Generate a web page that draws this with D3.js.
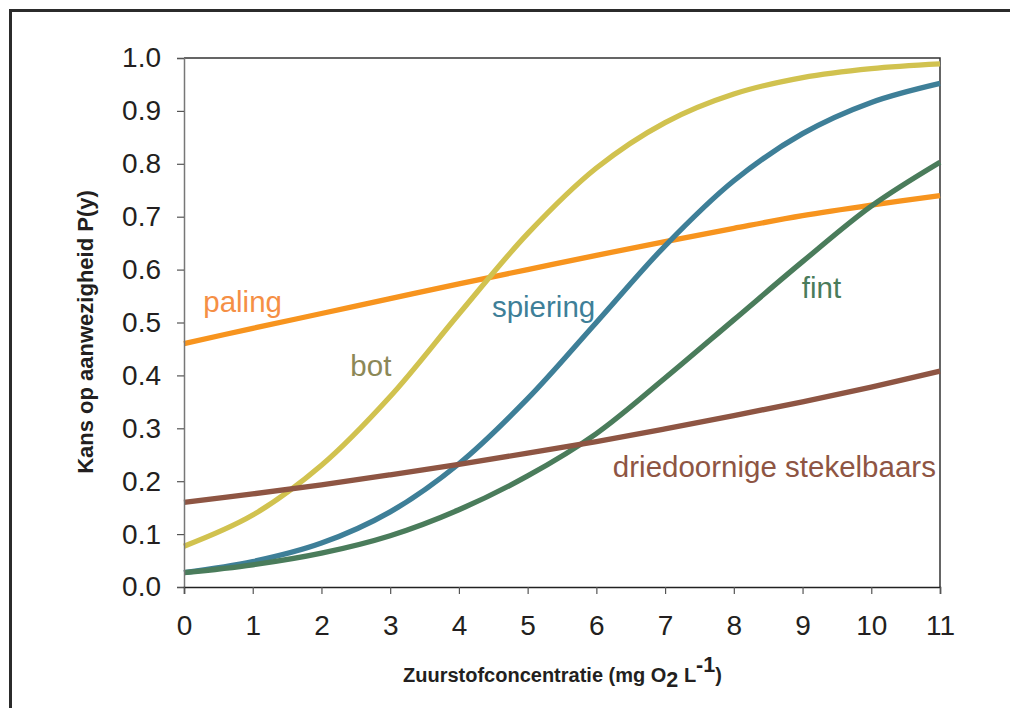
<!DOCTYPE html>
<html>
<head>
<meta charset="utf-8">
<script src="https://cdn.jsdelivr.net/npm/d3@7"></script>
<style>
  body { margin: 0; background: #fff; }
  svg { display: block; font-family: "Liberation Sans", Arial, sans-serif; }
</style>
</head>
<body>
<div id="chart"></div>
<script>
'use strict';

// zuurstof (mg O2/L)
var oxygen = [0, 1, 2, 3, 4, 5, 6, 7, 8, 9, 10, 11];

var paling   = [0.460, 0.489, 0.517, 0.545, 0.573, 0.600, 0.627, 0.653, 0.678, 0.702, 0.722, 0.740];
var bot      = [0.077, 0.136, 0.230, 0.360, 0.516, 0.668, 0.792, 0.878, 0.932, 0.963, 0.980, 0.989];
var spiering = [0.027, 0.048, 0.083, 0.142, 0.233, 0.356, 0.500, 0.645, 0.768, 0.857, 0.916, 0.952];
var fint     = [0.027, 0.042, 0.064, 0.097, 0.146, 0.210, 0.290, 0.395, 0.505, 0.615, 0.720, 0.803];
var stekel   = [0.160, 0.176, 0.193, 0.212, 0.232, 0.253, 0.275, 0.299, 0.324, 0.350, 0.378, 0.408];

var xTicks = [0, 1, 2, 3, 4, 5, 6, 7, 8, 9, 10, 11];
var yTicks = [0, 0.1, 0.2, 0.3, 0.4, 0.5, 0.6, 0.7, 0.8, 0.9, 1.0];

var series = [
  { name: 'paling', values: paling, color: '#F7941E', text: '#F58F45', lx: 0.28, ly: 0.520 },
  { name: 'bot', values: bot, color: '#D1C24F', text: '#8C8857', lx: 2.42, ly: 0.398 },
  { name: 'spiering', values: spiering, color: '#3E7F98', text: '#3E7F98', lx: 4.48, ly: 0.510 },
  { name: 'fint', values: fint, color: '#4A7C5B', text: '#4A7C5B', lx: 8.99, ly: 0.546 },
  { name: 'driedoornige stekelbaars', values: stekel, color: '#8E5543', text: '#8E5543', lx: 6.24, ly: 0.207 }
];

var W = 1010, H = 708;
var margin = { left: 184, right: 70, top: 58, bottom: 121 };

var svg = d3.select('#chart').append('svg')
  .attr('width', W).attr('height', H);

// outer frame
svg.append('path')
  .attr('d', 'M10.5,' + (H + 5) + 'V10.5H' + (W + 5))
  .attr('fill', 'none').attr('stroke', '#2b2b2b').attr('stroke-width', 3);

var x = d3.scaleLinear().domain([0, 11]).range([margin.left, W - margin.right]);
var y = d3.scaleLinear().domain([0, 1]).range([H - margin.bottom, margin.top]);

// top and right frame of plot area
svg.append('path')
  .attr('d', 'M' + x(0) + ',' + y(1) + 'H' + x(11) + 'V' + y(0))
  .attr('fill', 'none').attr('stroke', '#333').attr('stroke-width', 1.5);

var line = d3.line()
  .x(function(d, i) { return x(oxygen[i]); })
  .y(function(d) { return y(d); })
  .curve(d3.curveCatmullRom);

for (const s of series) {
  svg.append('path')
    .datum(s.values)
    .attr('d', line)
    .attr('fill', 'none')
    .attr('stroke', s.color)
    .attr('stroke-width', 5.3);
}

// y axis
var yAxis = svg.append('g')
  .attr('transform', 'translate(' + x(0) + ',0)')
  .call(d3.axisLeft(y).tickValues(yTicks).tickFormat(d3.format('.1f')).tickSize(7).tickPadding(16));
yAxis.select('.domain').attr('stroke', '#777').attr('stroke-width', 1.5);
yAxis.selectAll('.tick line').attr('stroke', '#555').attr('stroke-width', 1.2);
yAxis.selectAll('.tick text')
  .attr('font-size', 28).attr('fill', '#231f20').attr('font-family', '"Liberation Sans", Arial, sans-serif');

// x axis
var xAxis = svg.append('g')
  .attr('transform', 'translate(0,' + y(0) + ')')
  .call(d3.axisBottom(x).tickValues(xTicks).tickFormat(d3.format('d')).tickSize(7).tickPadding(21));
xAxis.select('.domain').attr('stroke', '#222').attr('stroke-width', 1.5);
xAxis.selectAll('.tick line').attr('stroke', '#555').attr('stroke-width', 1.2);
xAxis.selectAll('.tick text')
  .attr('font-size', 28).attr('fill', '#231f20').attr('font-family', '"Liberation Sans", Arial, sans-serif');

// series labels
for (const s of series) {
  svg.append('text')
    .attr('x', x(s.lx)).attr('y', y(s.ly))
    .attr('font-size', 29.5)
    .attr('fill', s.text)
    .text(s.name);
}

// axis titles
svg.append('text')
  .attr('transform', 'translate(93,' + 332 + ') rotate(-90)')
  .attr('text-anchor', 'middle')
  .attr('font-size', 22).attr('font-weight', 'bold').attr('fill', '#231f20')
  .text('Kans op aanwezigheid P(y)');

var xt = svg.append('text')
  .attr('x', 403).attr('y', 682)
  .attr('font-size', 20).attr('font-weight', 'bold').attr('fill', '#231f20');
xt.append('tspan').text('Zuurstofconcentratie (mg O');
xt.append('tspan').attr('dy', 5).attr('font-size', 21.5).text('2');
xt.append('tspan').attr('dy', -5).text(' L');
xt.append('tspan').attr('dy', -10).attr('font-size', 21.5).text('-1');
xt.append('tspan').attr('dy', 10).text(')');
</script>
</body>
</html>
